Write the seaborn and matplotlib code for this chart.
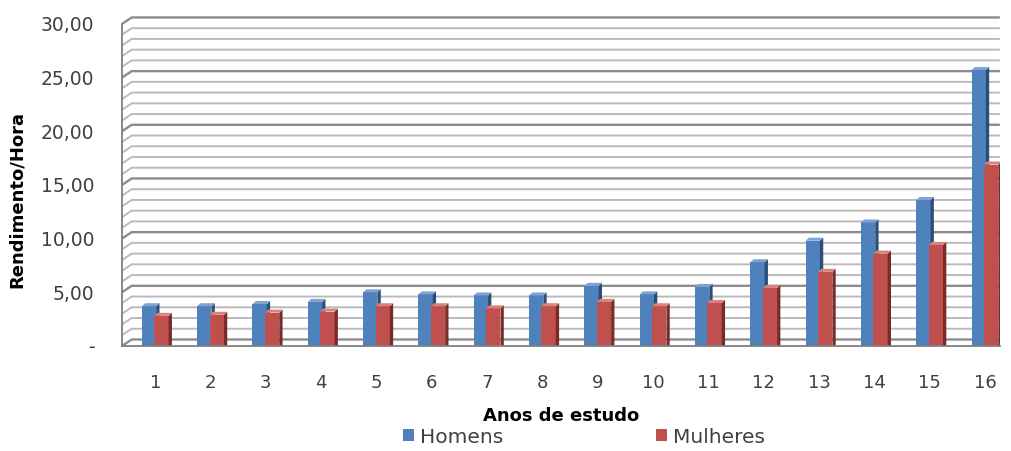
import matplotlib
matplotlib.use("Agg")
import matplotlib.pyplot as plt
from matplotlib.patches import Polygon, Patch
import seaborn as sns
import pandas as pd

# Hourly earnings by years of schooling
anos = ["1", "2", "3", "4", "5", "6", "7", "8", "9", "10", "11", "12", "13", "14", "15", "16"]
homens = [3.7, 3.7, 3.9, 4.1, 5.0, 4.8, 4.7, 4.7, 5.6, 4.8, 5.5, 7.8, 9.8, 11.5, 13.6, 25.7]
mulheres = [2.8, 2.9, 3.1, 3.2, 3.7, 3.7, 3.5, 3.7, 4.1, 3.7, 4.0, 5.4, 6.9, 8.6, 9.4, 16.9]
series = ["Homens", "Mulheres"]
y_ticks = [0, 5, 10, 15, 20, 25, 30]
y_tick_labels = ["-", "5,00", "10,00", "15,00", "20,00", "25,00", "30,00"]

df = pd.DataFrame({
    "Anos": anos * 2,
    "Valor": homens + mulheres,
    "Sexo": [series[0]] * len(anos) + [series[1]] * len(anos),
})

colors = {"Homens": "#4F81BD", "Mulheres": "#C0504D"}
side_colors = {"Homens": "#2C4D75", "Mulheres": "#772C2A"}
top_colors = {"Homens": "#7FA3D3", "Mulheres": "#D98280"}

sns.set_theme(style="white")
plt.rcParams["font.family"] = ["DejaVu Sans"]
text_color = "#404040"

fig = plt.figure(figsize=(10.12, 4.51), dpi=100)
ax = fig.add_axes([0.1206, 0.233, 0.8674, 0.714])

sns.barplot(data=df, x="Anos", y="Valor", hue="Sexo", palette=colors,
            width=0.45, gap=-0.15, dodge=True, legend=False, ax=ax,
            saturation=1, edgecolor="none", linewidth=0)

ax.set_xlim(-0.6, 15.27)
ax.set_ylim(0, 30)

# back wall gridlines, shifted up-right to suggest depth
wall_dx = 0.011   # axes fraction
wall_dy = 0.6     # data units
ytrans = ax.get_yaxis_transform()
for v in range(0, 31):
    major = v % 5 == 0
    ax.plot([0, wall_dx, 1], [v, v + wall_dy, v + wall_dy], transform=ytrans,
            color="#8c8c8c" if major else "#bababa",
            lw=1.7 if major else 1.4, zorder=0.5, clip_on=False,
            solid_capstyle="butt")

# 3D side and top faces on each bar
dx, dy = 0.06, 0.28
n = len(anos)
for i, p in enumerate(ax.patches[: 2 * n]):
    s = series[i // n]
    base_z = 2 + (i // n) * 0.5
    p.set_zorder(base_z)
    x0, w, h = p.get_x(), p.get_width(), p.get_height()
    x1 = x0 + w
    side = Polygon([(x1, 0), (x1, h), (x1 + dx, h + dy), (x1 + dx, 0)],
                   closed=True, facecolor=side_colors[s], edgecolor="none",
                   zorder=base_z + 0.1)
    top = Polygon([(x0, h), (x1, h), (x1 + dx, h + dy), (x0 + dx, h + dy)],
                  closed=True, facecolor=top_colors[s], edgecolor="none",
                  zorder=base_z + 0.1)
    ax.add_patch(side)
    ax.add_patch(top)

ax.set_yticks(y_ticks)
ax.set_yticklabels(y_tick_labels)
ax.tick_params(axis="y", length=5, width=1, color="#7f7f7f", direction="out",
               labelsize=13.5, labelcolor=text_color, pad=15)
ax.tick_params(axis="x", length=0, labelsize=13, labelcolor=text_color, pad=20)

for side_name in ["top", "right"]:
    ax.spines[side_name].set_visible(False)
for side_name in ["left", "bottom"]:
    ax.spines[side_name].set_color("#7f7f7f")
    ax.spines[side_name].set_linewidth(1.3)
    ax.spines[side_name].set_zorder(5)

ax.set_ylabel("Rendimento/Hora", fontsize=13, fontweight="bold",
              color="#000000")
ax.yaxis.set_label_coords(-0.110, 0.455)
ax.set_xlabel("Anos de estudo", fontsize=13, fontweight="bold",
              color="#000000")
ax.xaxis.set_label_coords(0.5, -0.19)

handles = [Patch(facecolor=colors[s], edgecolor="none") for s in series]
fig.legend(handles, series, loc="center", bbox_to_anchor=(0.577, 0.031),
           ncol=2, frameon=False, fontsize=14.5, handlelength=0.55,
           handleheight=0.55, handletextpad=0.3, columnspacing=7.6,
           labelcolor=text_color, borderpad=0)

fig.savefig("out.png", dpi=100)
